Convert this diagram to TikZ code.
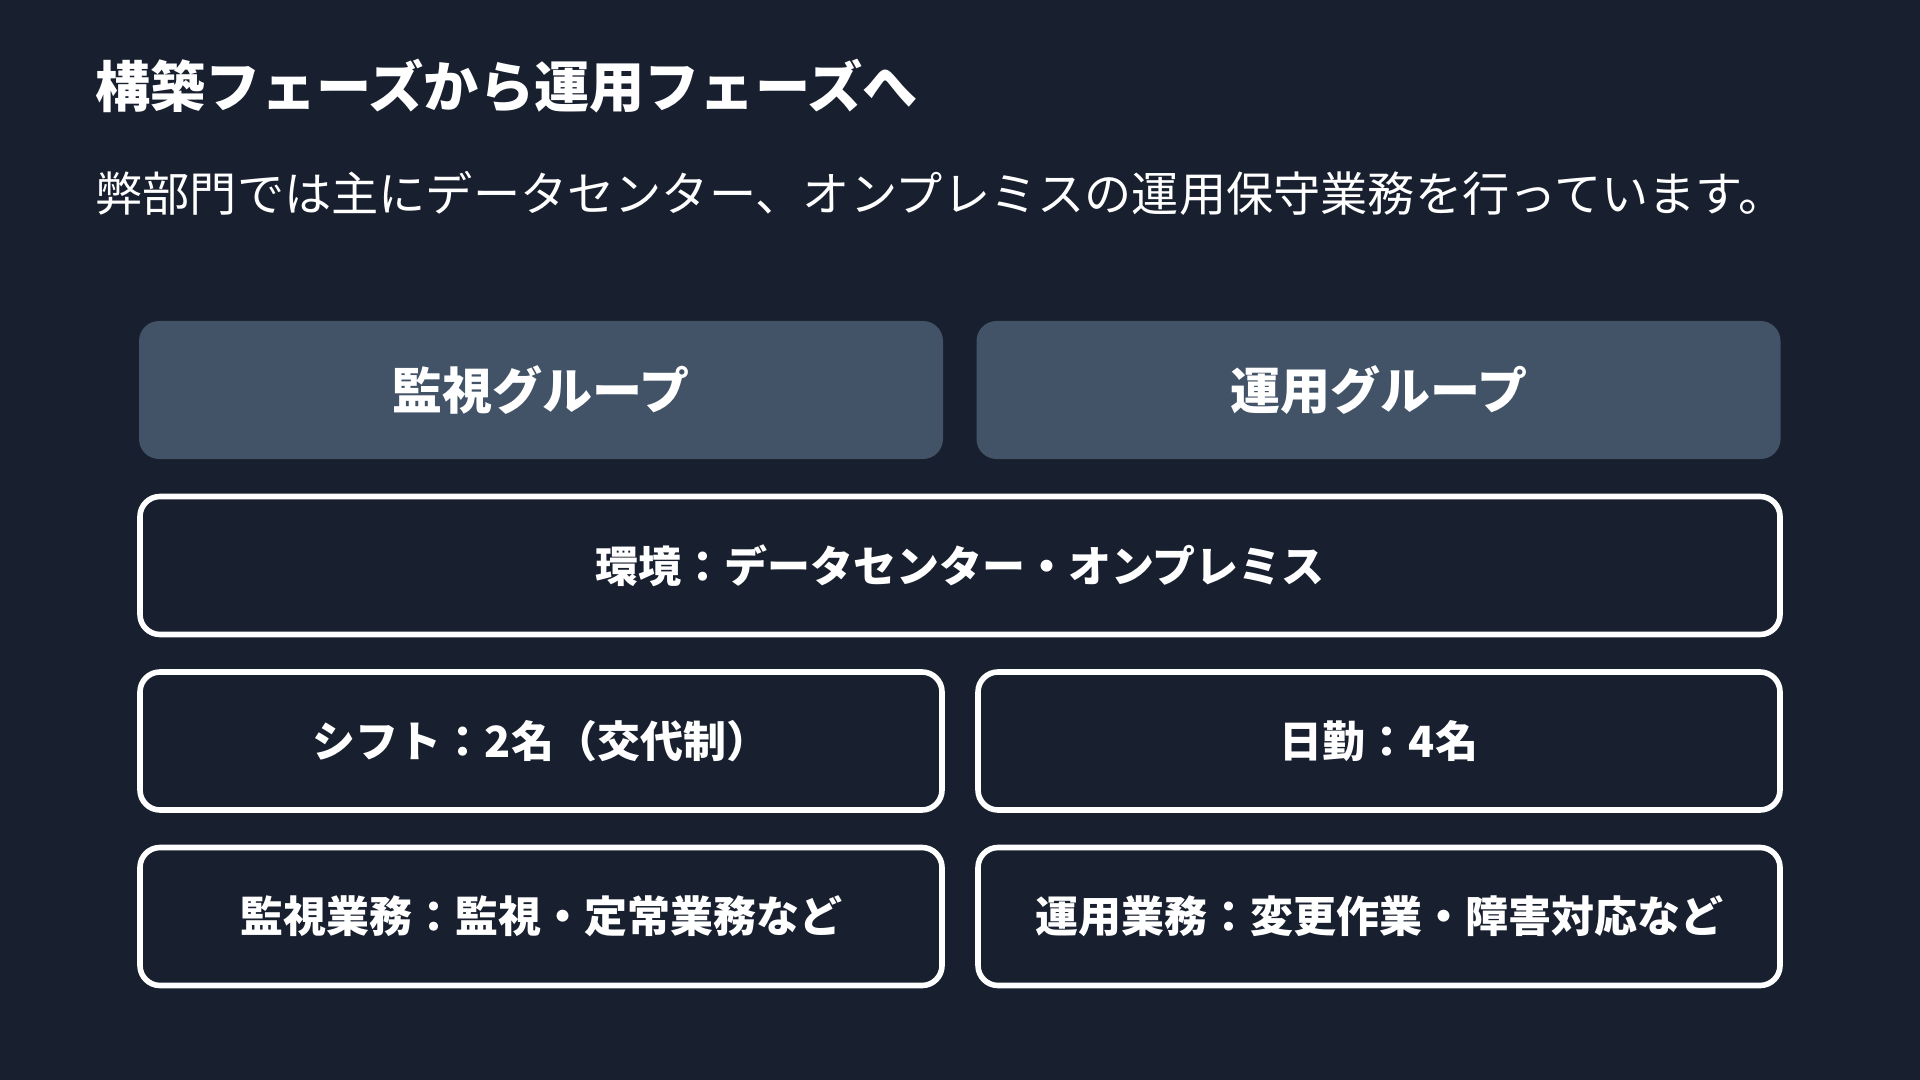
\documentclass[tikz,border=0pt]{standalone}
\usepackage{fontspec}
\newfontfamily\jp{Noto Sans CJK JP}
\definecolor{bgc}{HTML}{181F2E}
\definecolor{grpc}{HTML}{425367}
\begin{document}
\begin{tikzpicture}[x=0.5pt,y=-0.5pt,
  grp/.style={fill=grpc, draw=none, rounded corners=10pt, minimum width=402pt, minimum height=69pt, inner sep=0pt, text=white, font=\jp\bfseries\fontsize{25}{30}\selectfont},
  info/.style={draw=white, line width=2.8pt, fill=bgc, rounded corners=10pt, minimum height=69pt, inner sep=0pt, text=white, font=\jp\bfseries\fontsize{21.5}{26}\selectfont},
  half/.style={info, minimum width=401pt}
]
\fill[bgc] (0,0) rectangle (1920,1080);
\useasboundingbox (0,0) rectangle (1920,1080);
\node[anchor=west, inner sep=0pt, text=white, font=\jp\bfseries\fontsize{27.6}{32}\selectfont] (title) at (95,86) {構築フェーズから運用フェーズへ};
\node[anchor=west, inner sep=0pt, text=white, font=\jp\fontsize{23.6}{28}\selectfont] (sub) at (95,193) {弊部門では主にデータセンター、オンプレミスの運用保守業務を行っています。};
\node[grp] (g1) at (541,390) {監視グループ};
\node[grp] (g2) at (1378.5,390) {運用グループ};
\node[info, minimum width=820pt] (env) at (960,565.5) {環境：データセンター・オンプレミス};
\node[half] (s1) at (541,741) {シフト：2名（交代制）};
\node[half] (s2) at (1379,741) {日勤：4名};
\node[half] (w1) at (541,916.5) {監視業務：監視・定常業務など};
\node[half] (w2) at (1379,916.5) {運用業務：変更作業・障害対応など};
\end{tikzpicture}
\end{document}
